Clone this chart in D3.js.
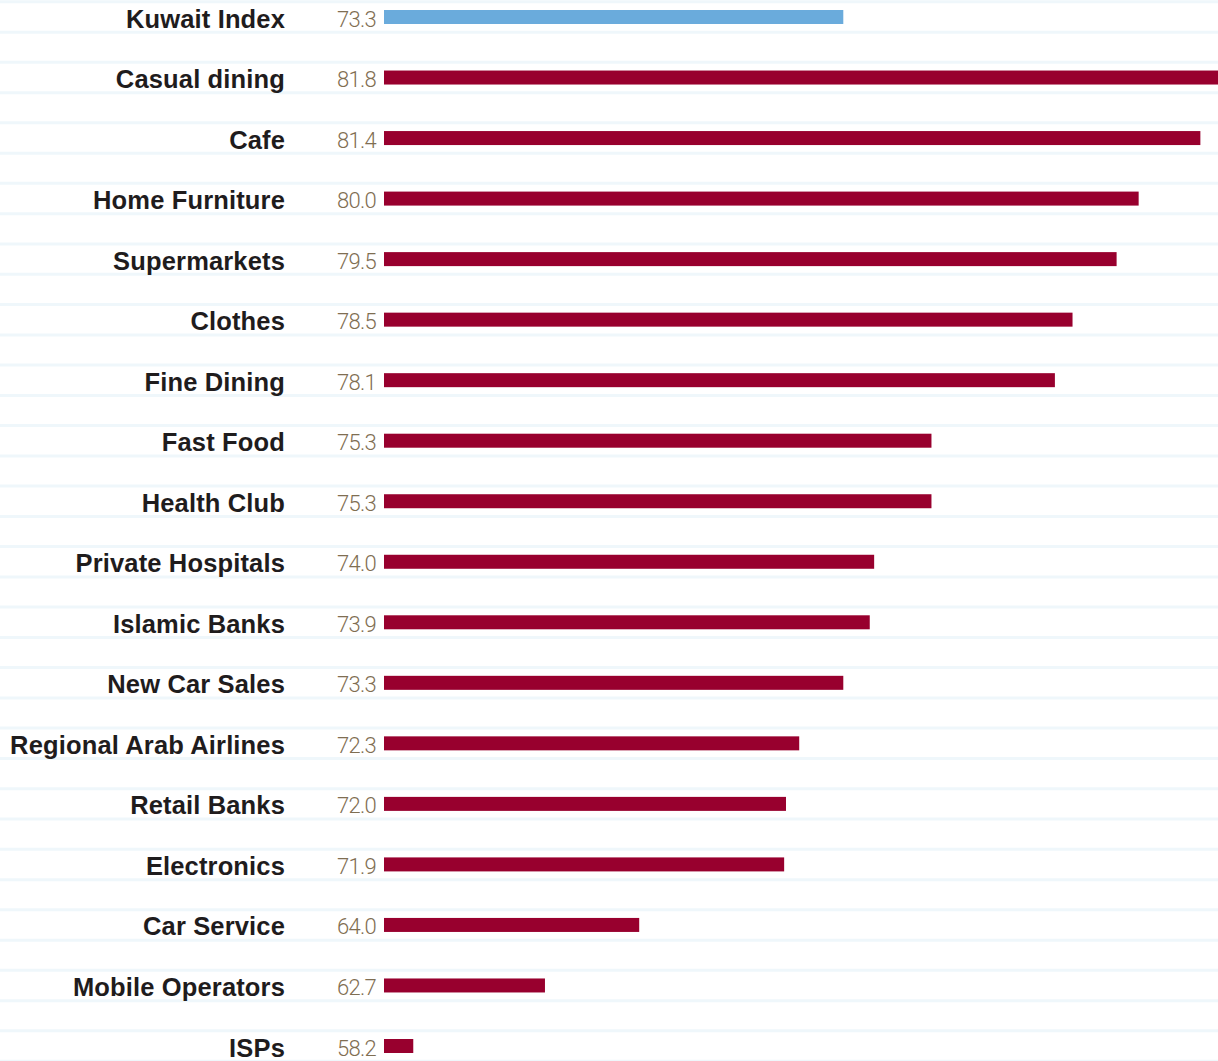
<!DOCTYPE html>
<html>
<head>
<meta charset="utf-8">
<script src="https://cdn.jsdelivr.net/npm/d3@7"></script>
<style>
  html, body { margin: 0; padding: 0; background: #fff; }
  svg { display: block; }
</style>
</head>
<body>
<svg id="chart" width="1218" height="1061"></svg>
<script>
const categories = ["Kuwait Index", "Casual dining", "Cafe", "Home Furniture", "Supermarkets", "Clothes", "Fine Dining", "Fast Food", "Health Club", "Private Hospitals", "Islamic Banks", "New Car Sales", "Regional Arab Airlines", "Retail Banks", "Electronics", "Car Service", "Mobile Operators", "ISPs"];
const values = [73.3, 81.8, 81.4, 80.0, 79.5, 78.5, 78.1, 75.3, 75.3, 74.0, 73.9, 73.3, 72.3, 72.0, 71.9, 64.0, 62.7, 58.2];
const valueLabels = ["73.3", "81.8", "81.4", "80.0", "79.5", "78.5", "78.1", "75.3", "75.3", "74.0", "73.9", "73.3", "72.3", "72.0", "71.9", "64.0", "62.7", "58.2"];
const highlight = ["Kuwait Index"];

const W = 1218, H = 1061;
const svg = d3.select("#chart");
const barX0 = 384, barX1 = 1218;
const bw = barX1 - barX0;

const y = d3.scalePoint().domain(categories).range([17, 1046]);
const step = y.step();

// piecewise-linear value scale, as the source chart's bar lengths are not proportional
const x = d3.scaleLinear()
  .domain([57.2, 62.7, 64.0, 72.0, 81.8])
  .range([0, 0.193, 0.306, 0.482, 1].map(f => barX0 + f * bw))
  .clamp(true);

const data = categories.map((c, i) => ({ c, v: values[i], label: valueLabels[i] }));

// gridlines: one above and one below every row
const gridYs = [];
categories.forEach(c => { gridYs.push(y(c) - step / 4 - 0.1); gridYs.push(y(c) + step / 4 + 0.1); });
svg.append("g").selectAll("line").data(gridYs).join("line")
  .attr("x1", 0).attr("x2", W)
  .attr("y1", d => d).attr("y2", d => d)
  .attr("stroke", "#eff7fb").attr("stroke-width", 3);

const row = svg.append("g").selectAll("g").data(data).join("g")
  .attr("transform", d => `translate(0,${y(d.c)})`);

row.append("rect")
  .attr("x", barX0)
  .attr("y", -7)
  .attr("height", 14)
  .attr("width", d => x(d.v) - barX0)
  .attr("fill", d => highlight.includes(d.c) ? "#6aabdc" : "#98002e");

row.append("text")
  .attr("x", 285).attr("y", 10.5)
  .attr("text-anchor", "end")
  .attr("font-family", "Liberation Sans, Arial, sans-serif")
  .attr("font-weight", "bold")
  .attr("font-size", "25.5px")
  .attr("letter-spacing", "0.15px")
  .attr("fill", "#1f1c1d")
  .text(d => d.c);

row.append("text")
  .attr("x", 376).attr("y", 9.5)
  .attr("text-anchor", "end")
  .attr("font-family", "Roboto, Liberation Sans, sans-serif")
  .attr("font-weight", 300)
  .attr("font-size", "22px")
  .attr("letter-spacing", "-0.7px")
  .attr("fill", "#7f6e52")
  .text(d => d.label);
</script>
</body>
</html>
